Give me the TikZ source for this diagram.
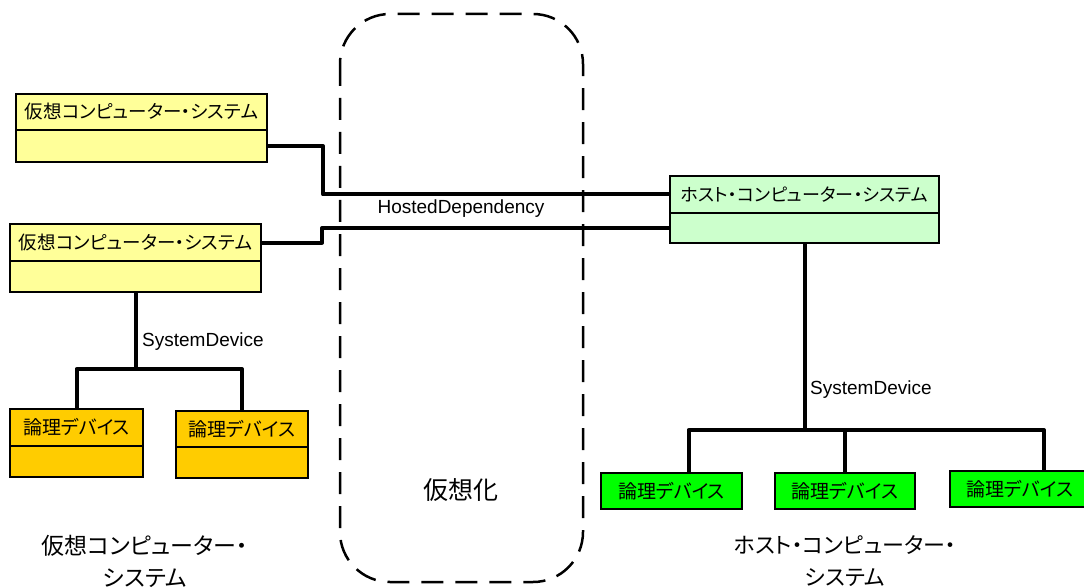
\documentclass[tikz,border=0pt]{standalone}
\usepackage{fontspec}
\setmainfont{Liberation Sans}
\newfontfamily\jp[RawFeature=+palt]{Noto Sans CJK JP}
\usetikzlibrary{positioning, calc}
\definecolor{vmyellow}{HTML}{FFFF99}
\definecolor{hostgreen}{HTML}{CCFFCC}
\definecolor{devorange}{HTML}{FFCC00}
\definecolor{devgreen}{HTML}{00FF00}
\tikzset{
  head/.style={draw, line width=1.2pt, inner sep=0pt, outer sep=0pt, font=\jp\fontsize{18.5}{20}\selectfont},
  body/.style={draw, line width=1.2pt, inner sep=0pt, outer sep=0pt},
  link/.style={line width=4pt, line join=round},
  lbl/.style={font=\fontsize{19}{22}\selectfont, inner sep=0pt},
}

\begin{document}
\begin{tikzpicture}[x=1pt,y=-1pt]
\useasboundingbox (0,0) rectangle (1084,588);
\draw[line width=2.5pt, dash pattern=on 22pt off 12pt, rounded corners=50pt] (340,14) rectangle (583,582);

\node[head, fill=vmyellow, minimum width=251, minimum height=36] (vm1) at (141.5,112) {仮想コンピューター・システム};
\node[body, fill=vmyellow, minimum width=251, minimum height=32, below=0pt of vm1] (vm1b) {};
\node[head, fill=vmyellow, minimum width=251, minimum height=37] (vm2) at (135.5,242.5) {仮想コンピューター・システム};
\node[body, fill=vmyellow, minimum width=251, minimum height=31, below=0pt of vm2] (vm2b) {};
\node[head, fill=hostgreen, minimum width=269, minimum height=37, font=\jp\fontsize{18}{19}\selectfont] (host) at (804.5,194.5) {ホスト・コンピューター・システム};
\node[body, fill=hostgreen, minimum width=269, minimum height=30, below=0pt of host] (hostb) {};

\node[head, fill=devorange, minimum width=133, minimum height=37, font=\jp\fontsize{19}{20}\selectfont] (dev1) at (76.5,427.5) {論理デバイス};
\node[body, fill=devorange, minimum width=133, minimum height=31, below=0pt of dev1] (dev1b) {};
\node[head, fill=devorange, minimum width=132, minimum height=36, font=\jp\fontsize{19}{20}\selectfont] (dev2) at (242,429) {論理デバイス};
\node[body, fill=devorange, minimum width=132, minimum height=31, below=0pt of dev2] (dev2b) {};

\node[head, fill=devgreen, minimum width=141, minimum height=36, font=\jp\fontsize{19}{20}\selectfont] (gdev1) at (671.5,491) {論理デバイス};
\node[head, fill=devgreen, minimum width=140, minimum height=36, font=\jp\fontsize{19}{20}\selectfont] (gdev2) at (845,491) {論理デバイス};
\node[head, fill=devgreen, minimum width=140, minimum height=36, font=\jp\fontsize{19}{20}\selectfont] (gdev3) at (1020,489) {論理デバイス};

\draw[link] (vm1b.east) -- ++(56,0) |- (host.west);
\draw[link] (vm2.east) -- ++(61,0) |- (hostb.west);
\draw[link] (vm2b.south) -- ++(0,77) coordinate (ljoin);
\draw[link] (dev1.north) |- (ljoin) -| (dev2.north);
\draw[link] (hostb.south) -- ++(0,187) coordinate (rjoin);
\draw[link] ([xshift=17pt]gdev1.north) |- (rjoin) -| ([xshift=24pt]gdev3.north);
\draw[link] (gdev2.north) -- (gdev2.north |- rjoin);

\node[lbl] (hdep) at (461,209) {HostedDependency};
\node[lbl, anchor=west] (sdev1) at (142,342) {SystemDevice};
\node[lbl, anchor=west] (sdev2) at (810,390) {SystemDevice};
\node[font=\jp\fontsize{25}{28}\selectfont] (virt) at (461,490) {仮想化};
\node[font=\jp\fontsize{23}{32}\selectfont, align=center] (vmcap) at (145,561) {仮想コンピューター・\\システム};
\node[font=\jp\fontsize{22}{32}\selectfont, align=center] (hostcap) at (845,561) {ホスト・コンピューター・\\システム};
\end{tikzpicture}
\end{document}
